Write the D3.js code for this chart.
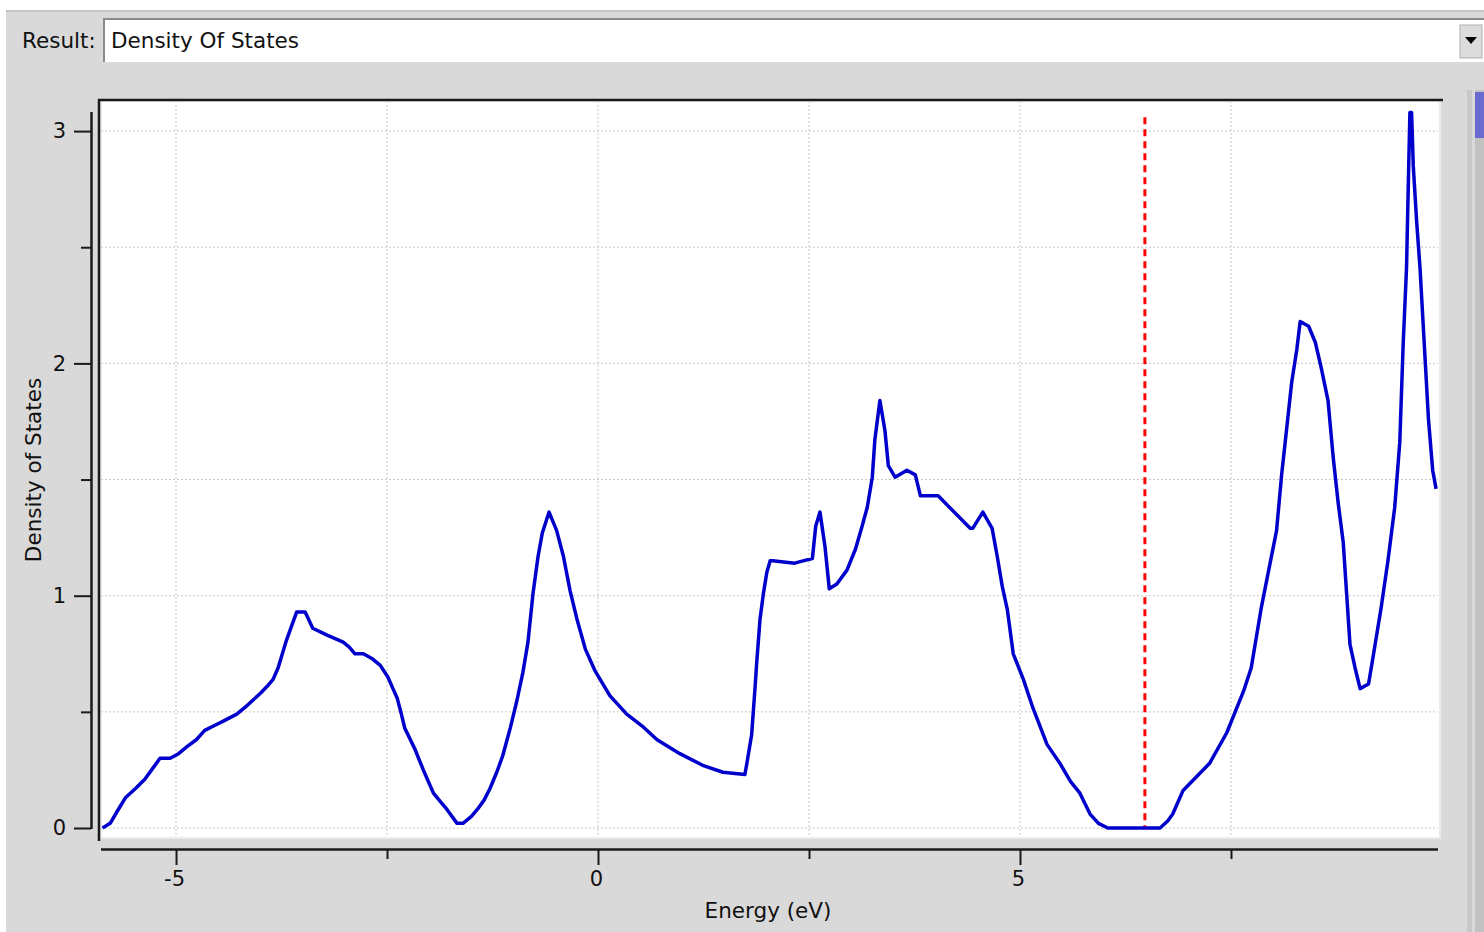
<!DOCTYPE html>
<html>
<head>
<meta charset="utf-8">
<script src="https://cdn.jsdelivr.net/npm/d3@7"></script>
<style>
body { margin: 0; background: #fff; }
svg { display: block; font-family: "DejaVu Sans", sans-serif; }
</style>
</head>
<body>
<svg id="chart" width="1484" height="932"></svg>
<script>
// density of states
const energy = [-5.87, -5.78, -5.70, -5.60, -5.48, -5.37, -5.27, -5.19, -5.07, -4.97,
	-4.87, -4.76, -4.66, -4.55, -4.44, -4.28, -4.18, -4.09, -4.00, -3.92,
	-3.85, -3.79, -3.74, -3.69, -3.63, -3.57, -3.47, -3.38, -3.21, -3.02,
	-2.95, -2.88, -2.78, -2.68, -2.58, -2.49, -2.43, -2.38, -2.33, -2.29,
	-2.17, -2.07, -1.95, -1.86, -1.79, -1.67, -1.60, -1.50, -1.43, -1.35,
	-1.28, -1.20, -1.13, -1.04, -0.96, -0.89, -0.83, -0.77, -0.71, -0.66,
	-0.58, -0.49, -0.41, -0.33, -0.25, -0.15, -0.04, 0.14, 0.34, 0.52,
	0.70, 0.97, 1.24, 1.48, 1.74, 1.76, 1.82, 1.86, 1.88, 1.92,
	1.96, 2.00, 2.04, 2.07, 2.33, 2.43, 2.54, 2.58, 2.63, 2.69,
	2.74, 2.83, 2.95, 3.05, 3.13, 3.19, 3.25, 3.28, 3.34, 3.40,
	3.44, 3.52, 3.66, 3.76, 3.82, 3.99, 4.03, 4.41, 4.44, 4.56,
	4.67, 4.73, 4.79, 4.85, 4.92, 5.04, 5.15, 5.32, 5.47, 5.60,
	5.71, 5.83, 5.93, 6.04, 6.66, 6.75, 6.81, 6.93, 7.25, 7.45,
	7.55, 7.65, 7.74, 7.86, 7.98, 8.04, 8.10, 8.16, 8.22, 8.28,
	8.32, 8.42, 8.50, 8.57, 8.65, 8.71, 8.77, 8.83, 8.87, 8.91,
	8.97, 9.03, 9.13, 9.19, 9.28, 9.36, 9.44, 9.50, 9.54, 9.58,
	9.60, 9.62, 9.64, 9.66, 9.70, 9.74, 9.80, 9.84, 9.89, 9.93];
const dos = [0.00, 0.02, 0.07, 0.13, 0.17, 0.21, 0.26, 0.30, 0.30, 0.32,
	0.35, 0.38, 0.42, 0.44, 0.46, 0.49, 0.52, 0.55, 0.58, 0.61,
	0.64, 0.69, 0.75, 0.81, 0.87, 0.93, 0.93, 0.86, 0.83, 0.80,
	0.78, 0.75, 0.75, 0.73, 0.70, 0.65, 0.60, 0.56, 0.49, 0.43,
	0.34, 0.25, 0.15, 0.11, 0.08, 0.02, 0.02, 0.05, 0.08, 0.12,
	0.17, 0.24, 0.31, 0.43, 0.55, 0.67, 0.80, 1.01, 1.17, 1.27,
	1.36, 1.28, 1.17, 1.02, 0.90, 0.77, 0.68, 0.57, 0.49, 0.44,
	0.38, 0.32, 0.27, 0.24, 0.23, 0.27, 0.40, 0.60, 0.71, 0.90,
	1.01, 1.10, 1.15, 1.15, 1.14, 1.15, 1.16, 1.30, 1.36, 1.21,
	1.03, 1.05, 1.11, 1.20, 1.30, 1.38, 1.51, 1.67, 1.84, 1.71,
	1.56, 1.51, 1.54, 1.52, 1.43, 1.43, 1.43, 1.29, 1.29, 1.36,
	1.29, 1.17, 1.04, 0.94, 0.75, 0.64, 0.52, 0.36, 0.28, 0.20,
	0.15, 0.06, 0.02, 0.00, 0.00, 0.03, 0.06, 0.16, 0.28, 0.41,
	0.50, 0.59, 0.69, 0.95, 1.17, 1.28, 1.52, 1.72, 1.92, 2.06,
	2.18, 2.16, 2.09, 1.98, 1.84, 1.60, 1.40, 1.23, 1.01, 0.79,
	0.69, 0.60, 0.62, 0.75, 0.95, 1.15, 1.38, 1.66, 2.08, 2.41,
	2.75, 3.08, 3.08, 2.85, 2.61, 2.41, 2.02, 1.76, 1.54, 1.46];

const fermiLevel = [6.48];
const fermiTop = 3.06;
const xTicks = [-5, -2.5, 0, 2.5, 5, 7.5];
const yTicks = [0, 0.5, 1, 1.5, 2, 2.5, 3];
const xDomain = [-5.889, 9.953];
const yDomain = [-0.0344, 3.1295];
const resultName = "Density Of States";

const svg = d3.select("#chart");

// window background and the combo box on top
svg.append("rect").attr("x", 6).attr("y", 10).attr("width", 1478).attr("height", 922).attr("fill", "#d9d9d9");
svg.append("line").attr("x1", 6).attr("x2", 1484).attr("y1", 11).attr("y2", 11).attr("stroke", "#c4c4c4").attr("stroke-width", 2);

svg.append("text").attr("x", 22).attr("y", 48).attr("font-size", 21.5).attr("fill", "#111").text("Result:");
svg.append("rect").attr("x", 103).attr("y", 18).attr("width", 1381).attr("height", 44).attr("fill", "#fff");
svg.append("path").attr("d", "M104,62V19H1484").attr("fill", "none").attr("stroke", "#8a8a8a").attr("stroke-width", 2);
svg.append("text").attr("x", 111).attr("y", 48).attr("font-size", 21.5).attr("fill", "#111").text(resultName);
svg.append("rect").attr("x", 1460).attr("y", 25).attr("width", 22).attr("height", 33).attr("fill", "#dcdcdc").attr("stroke", "#b0b0b0");
svg.append("path").attr("d", "M1465,37h12l-6,7z").attr("fill", "#000");

// scroll bar on the right
svg.append("rect").attr("x", 1467).attr("y", 90).attr("width", 5).attr("height", 842).attr("fill", "#c8c8c8");
svg.append("rect").attr("x", 1475).attr("y", 90).attr("width", 9).attr("height", 842).attr("fill", "#c2c2c2");
svg.append("rect").attr("x", 1475).attr("y", 92).attr("width", 9).attr("height", 46).attr("fill", "#6b6bcf");

const plotLeft = 101, plotRight = 1438, plotTop = 101, plotBottom = 836;

const x = d3.scaleLinear().domain(xDomain).range([plotLeft, plotRight]);
const y = d3.scaleLinear().domain(yDomain).range([plotBottom, plotTop]);

// plot area
svg.append("rect").attr("x", plotLeft).attr("y", plotTop)
	.attr("width", plotRight - plotLeft + 2).attr("height", plotBottom - plotTop + 2)
	.attr("fill", "#fff").attr("stroke", "#ececec").attr("stroke-width", 2);
svg.append("path").attr("d", `M${plotLeft - 2},${plotBottom + 5}V${plotTop - 1}H${plotRight + 5}`)
	.attr("fill", "none").attr("stroke", "#1a1a1a").attr("stroke-width", 2.5);

// dotted grid
const grid = svg.append("g").attr("stroke", "#c8c8c8").attr("stroke-width", 1).attr("stroke-dasharray", "2,2");
grid.selectAll(".gx").data(xTicks).enter().append("line")
	.attr("x1", d => x(d)).attr("x2", d => x(d)).attr("y1", plotTop).attr("y2", plotBottom);
grid.selectAll(".gy").data(yTicks).enter().append("line")
	.attr("x1", plotLeft).attr("x2", plotRight).attr("y1", d => y(d)).attr("y2", d => y(d));

// x axis below the plot
const xAxis = svg.append("g")
	.attr("transform", "translate(0,849)")
	.call(d3.axisBottom(x).tickValues(xTicks).tickSize(16).tickSizeOuter(0).tickPadding(6)
		.tickFormat(d => Number.isInteger(d) ? String(d) : ""));
xAxis.select(".domain").attr("stroke", "#1a1a1a").attr("stroke-width", 2.5)
	.attr("d", `M${plotLeft},0.5H${plotRight}`);
xAxis.selectAll(".tick line").attr("stroke", "#1a1a1a").attr("stroke-width", 2)
	.attr("y2", d => Number.isInteger(d) ? 16 : 10);
xAxis.selectAll(".tick text").attr("font-size", 21).attr("fill", "#111")
	.attr("font-family", "DejaVu Sans").attr("dx", -2);

// y axis left of the frame
const yAxis = svg.append("g")
	.attr("transform", "translate(91,0)")
	.call(d3.axisLeft(y).tickValues(yTicks).tickSize(17).tickSizeOuter(0).tickPadding(8)
		.tickFormat(d => Number.isInteger(d) ? String(d) : ""));
yAxis.select(".domain").attr("stroke", "#1a1a1a").attr("stroke-width", 2.5)
	.attr("d", `M0.5,${y(0) + 1}V${plotTop + 11}`);
yAxis.selectAll(".tick line").attr("stroke", "#1a1a1a").attr("stroke-width", 2)
	.attr("x2", d => Number.isInteger(d) ? -17 : -10);
yAxis.selectAll(".tick text").attr("font-size", 21).attr("fill", "#111").attr("font-family", "DejaVu Sans");

// axis titles
svg.append("text").attr("x", 768).attr("y", 918).attr("text-anchor", "middle")
	.attr("font-size", 21.5).attr("fill", "#111").text("Energy (eV)");
svg.append("text").attr("transform", "translate(41,470) rotate(-90)").attr("text-anchor", "middle")
	.attr("font-size", 21.5).attr("fill", "#111").text("Density of States");

// fermi level
svg.selectAll(".fermi").data(fermiLevel).enter().append("line")
	.attr("x1", d => x(d)).attr("x2", d => x(d))
	.attr("y1", y(fermiTop)).attr("y2", y(0))
	.attr("stroke", "#ff0000").attr("stroke-width", 3).attr("stroke-dasharray", "7,5");

// dos curve
const points = energy.map((e, i) => [e, dos[i]]);
svg.append("path")
	.datum(points)
	.attr("fill", "none")
	.attr("stroke", "#0000cc")
	.attr("stroke-width", 3.5)
	.attr("stroke-linejoin", "round")
	.attr("d", d3.line().x(d => x(d[0])).y(d => y(d[1])));
</script>
</body>
</html>
